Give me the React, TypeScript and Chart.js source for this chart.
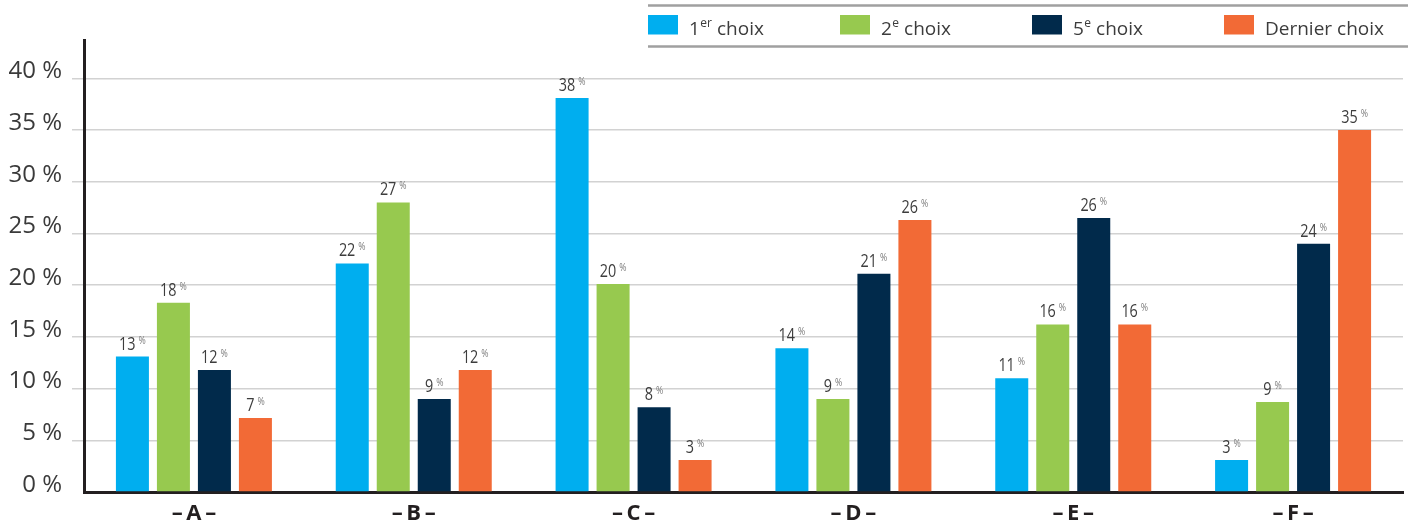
import { useEffect, useRef } from "react";
import { Chart, registerables } from "chart.js";

Chart.register(...registerables);

const categories = ["–\u2009A\u2009–", "–\u2009B\u2009–", "–\u2009C\u2009–", "–\u2009D\u2009–", "–\u2009E\u2009–", "–\u2009F\u2009–"];
const seriesNames = ["1er choix", "2e choix", "5e choix", "Dernier choix"];
const legendMain = ["1", "2", "5", "Dernier choix"];
const legendSup = ["er", "e", "e", ""];
const legendRest = [" choix", " choix", " choix", ""];
const colors = ["#00aeef", "#97c94f", "#012a4b", "#f26a36"];

const firstChoice = [13.1, 22.1, 38.1, 13.9, 11.0, 3.1];
const secondChoice = [18.3, 28.0, 20.1, 9.0, 16.2, 8.7];
const fifthChoice = [11.8, 9.0, 8.2, 21.1, 26.5, 24.0];
const lastChoice = [7.15, 11.8, 3.1, 26.3, 16.2, 35.0];

const firstLabels = [13, 22, 38, 14, 11, 3];
const secondLabels = [18, 27, 20, 9, 16, 9];
const fifthLabels = [12, 9, 8, 21, 26, 24];
const lastLabels = [7, 12, 3, 26, 16, 35];

const yTicks = [0, 5, 10, 15, 20, 25, 30, 35, 40];
const yMax = 43.7;

const FONT = "'Open Sans', 'Noto Sans', sans-serif";

export default function App() {
  const ref = useRef<HTMLCanvasElement | null>(null);

  useEffect(() => {
    if (!ref.current) return;
    const seriesValues = [firstChoice, secondChoice, fifthChoice, lastChoice];
    const seriesLabels = [firstLabels, secondLabels, fifthLabels, lastLabels];

    const valueLabelPlugin = {
      id: "valueLabels",
      afterDatasetsDraw(chart: any) {
        const ctx = chart.ctx as CanvasRenderingContext2D;
        chart.data.datasets.forEach((_ds: any, di: number) => {
          const meta = chart.getDatasetMeta(di);
          const labels = seriesLabels[di];
          meta.data.forEach((el: any, i: number) => {
            const { x, y } = el.getProps(["x", "y"], true);
            const num = String(labels[i]);
            const s = 0.8;
            ctx.save();
            ctx.font = `18px ${FONT}`;
            const nw = ctx.measureText(num).width * s;
            ctx.font = `11px ${FONT}`;
            const pw = ctx.measureText("%").width * s;
            const gap = 3;
            const total = nw + gap + pw;
            ctx.translate(x - total / 2, y - 7);
            ctx.scale(s, 1);
            ctx.textAlign = "left";
            ctx.textBaseline = "alphabetic";
            ctx.fillStyle = "#3d3d3d";
            ctx.font = `18px ${FONT}`;
            ctx.fillText(num, 0, 0);
            ctx.fillStyle = "#7a7a7a";
            ctx.font = `11px ${FONT}`;
            ctx.fillText("%", (nw + gap) / s, -6);
            ctx.restore();
          });
        });
      },
    };

    const legendPlugin = {
      id: "customLegend",
      afterDraw(chart: any) {
        const ctx = chart.ctx as CanvasRenderingContext2D;
        ctx.save();
        ctx.strokeStyle = "#a0a0a0";
        ctx.lineWidth = 2.5;
        ctx.beginPath();
        ctx.moveTo(648, 5.5);
        ctx.lineTo(1408, 5.5);
        ctx.moveTo(648, 46.5);
        ctx.lineTo(1408, 46.5);
        ctx.stroke();
        seriesNames.forEach((_n, i) => {
          const bx = 648 + i * 192;
          ctx.fillStyle = colors[i];
          ctx.fillRect(bx, 15, 30, 19.5);
          let tx = bx + 41;
          const base = 35;
          ctx.fillStyle = "#3c3c3c";
          ctx.textAlign = "left";
          ctx.textBaseline = "alphabetic";
          ctx.font = `19px ${FONT}`;
          ctx.fillText(legendMain[i], tx, base);
          tx += ctx.measureText(legendMain[i]).width;
          if (legendSup[i]) {
            ctx.font = `12px ${FONT}`;
            ctx.fillText(legendSup[i], tx + 0.5, base - 8);
            tx += ctx.measureText(legendSup[i]).width + 0.5;
          }
          if (legendRest[i]) {
            ctx.font = `19px ${FONT}`;
            ctx.fillText(legendRest[i], tx, base);
          }
        });
        ctx.restore();
      },
    };

    const chart = new Chart(ref.current, {
      type: "bar",
      data: {
        labels: categories,
        datasets: seriesNames.map((name, i) => ({
          label: name,
          data: seriesValues[i],
          backgroundColor: colors[i],
          borderWidth: 0,
          barPercentage: 0.805,
          categoryPercentage: 0.746,
        })),
      },
      options: {
        responsive: false,
        animation: false,
        devicePixelRatio: 1,
        layout: { padding: { top: 40, right: 5, left: 0, bottom: 0 } },
        plugins: {
          legend: { display: false },
          tooltip: { enabled: false },
        },
        scales: {
          x: {
            grid: { display: false, drawTicks: false },
            border: { display: true, color: "#231f20", width: 3 },
            ticks: {
              color: "#231f20",
              font: { family: FONT, size: 22, weight: "bold" },
              padding: 9,
            },
            afterFit(scale: any) {
              scale.height = 37;
            },
          },
          y: {
            min: 0,
            max: yMax,
            afterBuildTicks(scale: any) {
              scale.ticks = yTicks.map((v) => ({ value: v }));
            },
            grid: {
              color: (c: any) => (c.tick && c.tick.value === 0 ? "rgba(0,0,0,0)" : "#d2d2d2"),
              lineWidth: 1.5,
              tickLength: 12,
              drawTicks: true,
            },
            border: { display: true, color: "#231f20", width: 3 },
            ticks: {
              color: "#3a3a3a",
              font: { family: FONT, size: 24 },
              padding: 10,
              labelOffset: -7,
              callback: (v: any) => `${v} %`,
            },
            afterFit(scale: any) {
              scale.width = 84;
            },
          },
        },
      },
      plugins: [valueLabelPlugin, legendPlugin],
    } as any);

    return () => chart.destroy();
  }, []);

  return (
    <canvas
      ref={ref}
      width={1408}
      height={529}
      style={{ position: "absolute", left: 0, top: 0, width: 1408, height: 529 }}
    />
  );
}
